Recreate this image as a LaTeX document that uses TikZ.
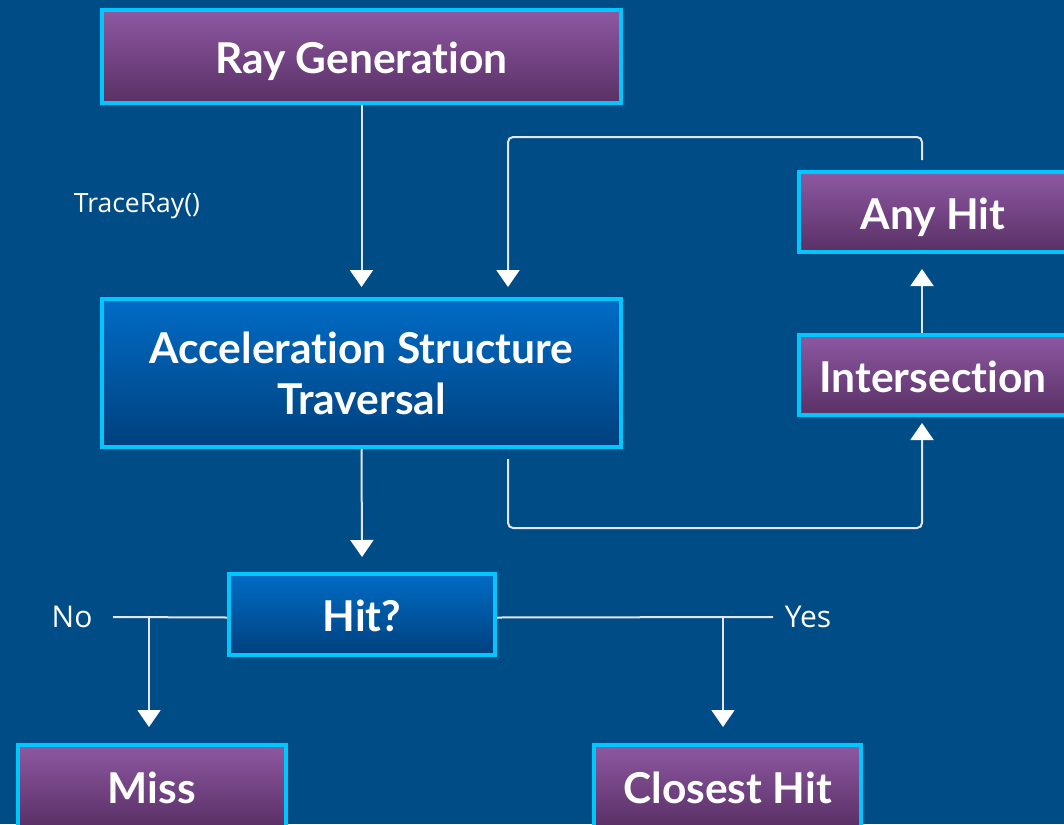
\documentclass[tikz,border=0pt]{standalone}
\usepackage{fontspec}
\setmainfont{Lato}[Ligatures={NoCommon}]
\newfontfamily\lblfont{Open Sans}
\usetikzlibrary{arrows.meta,calc}
\definecolor{bg}{HTML}{004C87}
\definecolor{cyanb}{HTML}{00C7FD}
\definecolor{ptop}{HTML}{8E58A2}
\definecolor{pbot}{HTML}{593065}
\definecolor{btop}{HTML}{006CC6}
\definecolor{bbot}{HTML}{00407D}
\definecolor{lineC}{HTML}{E4E6EA}
\tikzset{
  box/.style={draw=cyanb, line width=4pt, inner sep=0pt, text=white, align=center,
    font=\bfseries\fontsize{42.5}{51}\selectfont},
  oneline/.style={text height=34pt, text depth=0pt},
  pbox/.style={box, oneline, top color=ptop, bottom color=pbot},
  bbox/.style={box, top color=btop, bottom color=bbot},
  conn/.style={draw=lineC, line width=2pt},
  arr/.style={conn, -{Triangle[width=23pt,length=17pt,fill=white,color=white]}},
  lblsmall/.style={text=white, inner sep=0pt, font=\lblfont\fontsize{26.5}{30}\selectfont},
  lbl/.style={text=white, inner sep=0pt, font=\lblfont\fontsize{30}{34}\selectfont}
}
\begin{document}
\begin{tikzpicture}[x=1pt,y=-1pt]
\useasboundingbox (0,0) rectangle (1064,824);
\fill[bg] (0,0) rectangle (1064,824);
\clip (0,0) rectangle (1064,824);

\node[pbox, minimum width=519pt, minimum height=93pt] (rg) at (361.5,56.5) {Ray Generation};
\node[bbox, minimum width=519pt, minimum height=148pt] (acc) at (361.5,373) {Acceleration Structure\\Traversal};
\node[pbox, minimum width=268pt, minimum height=80pt] (ah) at (933,212) {Any Hit};
\node[pbox, minimum width=268pt, minimum height=80pt] (is) at (933,375) {Intersection};
\node[bbox, oneline, minimum width=266pt, minimum height=81pt] (hit) at (362,614.5) {Hit?};
\node[pbox, minimum width=268pt, minimum height=82pt] (miss) at (152,786) {Miss};
\node[pbox, minimum width=267pt, minimum height=82pt] (ch) at (727.5,786) {Closest Hit};

\node[lblsmall] (tr) at (137,206) {TraceRay()};
\node[lbl] (no) at (72,617) {No};
\node[lbl] (yes) at (808,617) {Yes};

\coordinate (ahOut) at ([xshift=-11pt,yshift=10pt]ah.north);
\coordinate (topL) at (508,137);
\coordinate (accIn) at ([xshift=146.5pt,yshift=10pt]acc.north);
\coordinate (accOut) at ([xshift=146.5pt,yshift=-10pt]acc.south);
\coordinate (botR) at (922,528);
\coordinate (isIn) at ([xshift=-11pt,yshift=-6pt]is.south);
\coordinate (hitL) at ([yshift=-3pt]hit.west);
\coordinate (hitR) at ([yshift=-3pt]hit.east);
\coordinate (noEnd) at (113,617);
\coordinate (noBr) at (149,617);
\coordinate (yesEnd) at (773,617);
\coordinate (yesBr) at (723,617);

\draw[arr] (rg.south) -- ([yshift=10pt]acc.north);
\draw[arr, rounded corners=5pt] (ahOut) -- (ahOut |- topL) -- (topL) -- (accIn);
\draw[arr, rounded corners=5pt] (accOut) -- (accOut |- botR) -- (botR) -- (isIn);
\draw[arr] ([xshift=-11pt]is.north) -- ([xshift=-11pt,yshift=-15pt]ah.south);
\draw[arr] (acc.south) -- ([yshift=15pt]hit.north);
\draw[conn] (hitL) -- (noEnd);
\draw[conn] (hitR) -- (yesEnd);
\draw[arr] (noBr) -- ($(noBr |- miss.north)+(0,-16)$);
\draw[arr] (yesBr) -- ($(yesBr |- ch.north)+(0,-16)$);
\end{tikzpicture}
\end{document}
